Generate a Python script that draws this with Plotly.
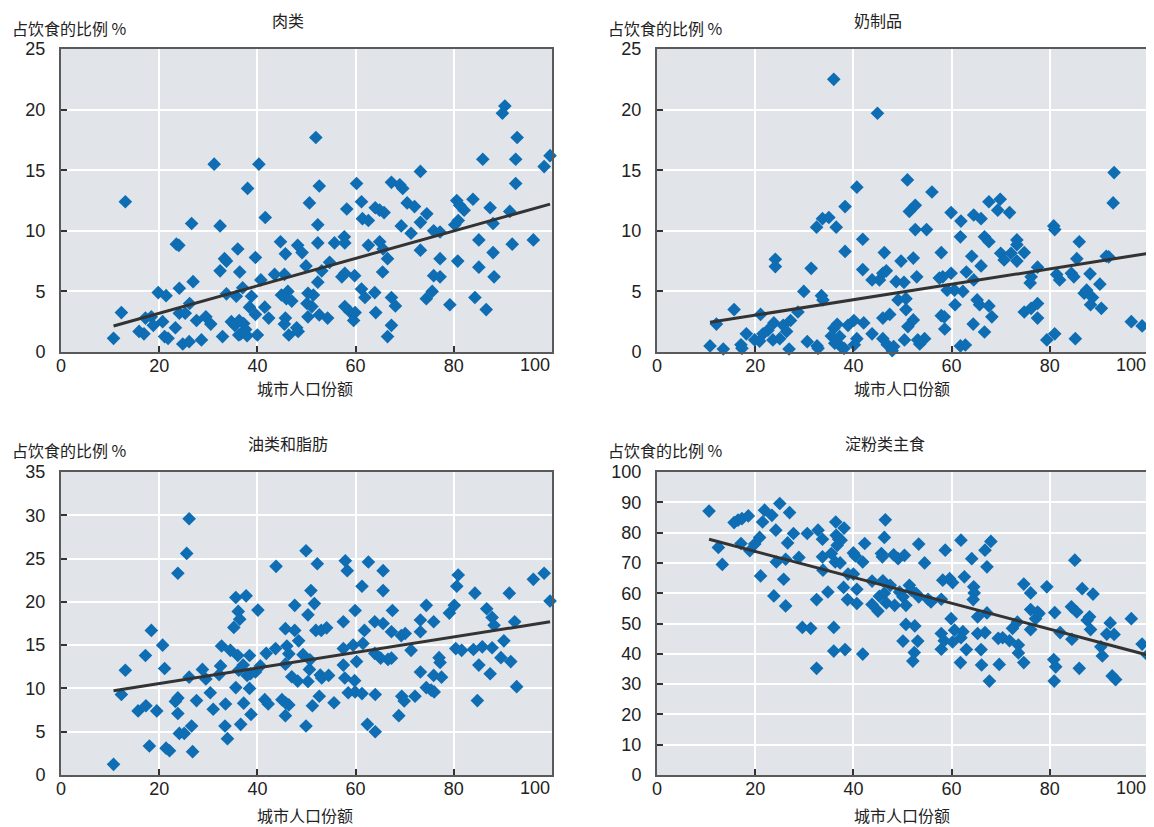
import numpy as np
import plotly.graph_objects as go

# ---------------- data ----------------
meat_x = [10.7,12.3,13.1,15.9,16.9,17.2,18.4,18.8,19.8,21.4,20.7,21.1,21.8,23.3,23.5,24.0,24.1,24.1,25.3,24.8,26.1,26.2,26.6,26.9,27.6,28.6,29.5,30.5,31.2,32.4,32.4,32.9,33.3,33.7,33.7,34.7,35.4,35.7,36.0,36.4,
          36.3,37.2,36.6,37.6,36.2,37.9,37.0,38.0,38.4,38.8,39.6,39.6,40.0,40.3,40.7,41.5,41.6,42.3,43.5,44.7,45.7,45.5,44.9,46.2,45.9,47.0,45.7,45.5,46.4,48.0,48.3,48.2,49.1,
          49.9,50.6,51.9,52.6,52.3,52.3,53.1,52.3,54.7,50.3,51.4,50.1,51.1,50.3,52.6,54.3,55.7,57.7,57.8,58.2,60.2,61.2,61.4,62.6,57.2,57.8,59.8,57.8,58.9,59.9,59.6,61.2,61.9,63.9,62.6,64.0,64.9,65.8,64.9,65.6,66.5,65.5,64.1,67.3,68.1,67.3,66.5,67.3,69.0,69.6,69.3,70.5,72.0,71.3,73.2,73.2,74.5,73.2,75.9,77.2,77.2,75.9,77.2,74.4,75.6,79.2,80.6,81.2,82.1,80.2,80.9,80.8,83.9,84.3,85.1,85.1,86.6,85.9,87.4,88.0,88.0,88.2,90.4,89.9,92.9,92.6,92.6,91.4,91.9,96.2,98.4,99.6]
meat_y = [1.13,3.25,12.4,1.7,1.5,2.8,2.9,2.2,4.9,4.65,2.5,1.27,1.13,2.0,8.9,8.8,5.26,3.2,3.2,0.66,0.85,4.0,10.6,5.8,2.6,1.0,2.9,2.3,15.5,10.4,6.7,1.27,7.7,7.5,4.8,2.5,2.2,4.6,8.5,6.6,
          2.6,2.35,1.5,1.85,1.4,1.35,5.3,13.5,3.7,4.6,3.1,7.8,1.4,15.5,5.95,3.7,11.1,2.8,6.4,9.1,8.1,6.4,4.7,5.0,4.4,4.2,2.8,2.3,1.4,2.0,1.7,8.8,8.2,
          7.1,12.3,17.7,13.7,10.5,9.0,6.7,5.76,7.4,4.85,4.7,4.0,3.75,2.9,3.06,2.8,9.0,9.5,9.0,11.8,13.9,12.4,11.0,10.85,6.2,6.5,6.3,3.75,3.3,3.25,2.6,5.2,4.5,4.9,8.8,11.9,11.7,11.5,9.1,8.5,7.7,6.6,3.25,4.5,3.8,2.2,1.27,14.0,13.8,13.5,10.4,12.3,12.0,9.8,14.9,10.7,11.4,8.4,10.0,9.9,7.7,6.3,6.2,4.4,5.0,3.9,12.5,12.1,11.7,10.5,10.85,7.5,12.6,4.5,9.25,7.0,3.5,15.9,11.9,10.6,8.2,6.2,20.3,19.7,17.7,15.9,13.9,11.6,8.9,9.25,15.3,16.2]
meat_trend = [2.15, 12.2]

dairy_x = [10.8,12.1,13.5,15.7,17.1,17.3,18.2,19.9,20.9,21.1,21.6,22.6,23.8,24.1,24.1,23.6,25.0,25.7,26.4,27.2,26.9,28.7,29.9,30.6,31.4,32.6,32.8,32.5,33.5,33.8,33.7,35.0,36.0,36.5,
           36.0,36.7,35.5,37.2,36.2,37.5,38.1,38.3,38.3,38.9,40.1,40.7,40.2,40.7,41.9,41.9,42.1,43.8,45.3,43.8,44.9,46.3,46.0,46.7,46.0,47.4,46.0,46.9,48.2,47.9,48.7,49.1,
           51.0,51.4,52.6,52.6,54.9,56.0,49.7,52.2,52.9,50.3,50.7,50.7,52.2,51.1,50.4,53.1,54.5,53.5,57.9,57.5,58.2,59.9,59.9,59.1,60.6,61.9,61.8,60.7,57.9,58.5,58.6,61.8,62.8,62.3,63.0,64.5,64.1,64.5,66.0,66.0,65.2,65.7,67.6,68.2,64.4,66.7,66.7,67.6,67.6,69.9,69.4,71.8,70.0,70.7,72.1,73.3,73.3,74.8,73.3,77.5,76.2,76.0,74.8,76.2,77.5,77.5,79.4,81.0,80.8,81.0,81.4,82.0,84.4,84.9,85.5,86.0,85.2,88.2,87.5,87.0,88.7,88.3,90.2,90.5,91.5,92.0,92.9,93.1,96.6,98.8,100.2]
dairy_y = [0.5,2.3,0.25,3.5,0.6,0.3,1.5,1.0,0.9,3.1,1.5,1.8,2.4,7.65,7.05,1.0,1.1,2.2,1.7,2.6,0.25,3.3,5.0,0.85,6.9,0.5,0.3,10.3,4.65,4.3,11.0,11.1,22.5,10.3,
           1.96,2.29,1.32,1.27,0.72,0.44,0.3,12.0,8.3,2.2,2.6,1.1,0.6,13.6,9.3,6.8,2.4,5.95,5.95,1.5,19.7,8.2,6.5,6.7,2.8,3.1,1.1,0.6,0.45,0.1,5.8,4.3,
           14.2,11.6,12.1,10.1,10.1,13.2,7.5,7.75,6.2,5.75,4.4,3.5,2.65,2.1,1.0,1.0,1.1,0.66,8.2,6.1,6.2,11.5,6.5,5.1,5.1,10.8,9.5,3.9,3.0,2.9,1.9,0.5,0.58,5.0,6.6,5.95,7.9,11.3,11.0,7.1,4.3,3.9,3.8,2.9,2.3,1.65,9.5,9.1,12.4,12.6,11.7,11.5,8.15,7.6,8.15,9.25,8.85,8.2,7.5,7.0,6.2,5.7,3.3,3.6,4.0,2.8,1.0,1.5,10.4,10.1,6.4,5.95,6.5,6.2,7.7,9.1,1.1,6.45,5.1,4.85,4.5,3.9,5.6,3.6,7.9,7.85,12.3,14.8,2.5,2.15,3.6]
dairy_trend = [2.45, 8.15]

oils_x = [10.7,12.3,13.1,15.7,17.3,17.2,18.0,18.4,19.5,20.7,21.1,21.4,22.1,23.3,23.8,23.8,23.8,24.1,25.1,25.6,26.1,26.1,26.6,26.8,27.6,28.8,29.5,30.4,31.0,32.2,32.5,32.7,33.5,33.4,33.9,34.5,35.2,35.6,37.7,36.1,36.4,35.6,36.0,36.2,37.1,36.6,37.2,38.4,37.9,38.6,39.6,40.6,38.4,38.7,40.1,41.8,41.5,42.2,43.7,43.8,45.7,47.6,46.0,46.4,45.7,47.0,48.2,45.0,45.8,46.4,45.7,47.6,48.4,49.3,
          49.9,52.2,50.9,51.6,50.3,51.9,53.0,54.1,50.7,50.6,50.3,52.8,53.1,54.5,52.6,51.2,55.6,49.9,57.9,58.3,62.6,65.6,61.3,65.6,57.5,59.9,61.8,63.9,65.6,67.3,67.5,57.5,59.5,61.5,57.5,60.2,57.8,59.8,58.5,59.9,61.3,64.0,63.9,65.1,66.6,67.3,62.4,64.0,68.8,69.4,69.9,72.1,69.3,70.1,71.3,73.2,73.2,74.4,75.9,73.2,75.9,77.5,74.4,75.4,76.0,77.0,77.2,79.1,80.1,80.6,80.9,80.4,81.6,84.0,85.8,87.8,85.1,87.4,84.8,84.3,86.7,87.8,88.2,90.2,89.6,91.6,91.3,92.4,92.8,96.2,98.4,99.6]
oils_y = [1.23,9.3,12.1,7.4,8.0,13.8,3.35,16.7,7.4,15.0,12.3,3.1,2.8,8.5,8.9,7.1,23.3,4.8,4.8,25.6,29.6,11.3,5.66,2.7,8.6,12.2,11.1,9.5,7.6,11.6,12.6,14.9,8.2,5.66,4.2,14.4,17.05,20.5,20.7,18.9,18.0,10.1,13.8,12.1,12.7,5.85,8.3,13.8,11.5,11.7,11.9,12.6,10.0,7.0,19.05,14.05,8.7,8.2,14.6,24.1,16.9,16.7,14.9,14.0,12.8,11.35,10.85,8.7,8.3,8.1,6.85,19.6,15.5,13.9,
          25.9,24.4,21.3,19.8,18.5,16.7,16.7,17.0,13.3,12.2,10.8,11.55,11.2,11.5,9.1,8.0,8.35,5.66,24.75,23.6,24.6,23.6,21.8,21.3,17.7,19.0,16.7,17.7,17.5,16.55,19.0,14.6,15.0,15.2,12.7,13.1,11.2,10.9,9.5,9.6,9.4,9.3,14.05,13.5,13.35,13.5,5.85,5.0,6.85,9.1,8.55,9.1,16.1,16.35,14.4,16.55,17.9,19.6,17.7,11.9,11.5,11.3,10.1,9.8,9.6,13.55,13.0,18.7,19.6,21.8,23.1,14.6,14.4,14.5,14.8,14.7,12.7,11.7,8.6,21.0,19.2,18.2,17.3,15.5,13.55,13.1,21.0,17.7,10.2,22.6,23.3,20.1]
oils_trend = [9.74, 17.7]

starch_x = [10.6,12.5,13.3,15.7,16.5,17.3,18.6,17.1,18.9,19.9,20.9,21.1,21.5,21.9,23.4,24.2,24.3,23.8,25.0,25.8,26.2,26.2,26.6,27.0,27.8,28.9,29.6,31.3,30.6,32.5,32.5,32.8,33.7,33.7,33.8,34.8,35.5,36.0,36.0,38.3,36.4,36.5,37.0,36.7,37.5,36.3,37.3,38.1,38.0,38.8,38.9,40.0,40.0,40.4,40.7,40.7,41.9,41.9,42.3,43.8,43.8,45.0,45.3,45.7,45.9,46.3,46.5,46.0,46.3,46.7,47.5,48.2,48.4,49.1,
            50.4,53.3,54.5,58.7,61.9,64.1,66.8,68.0,67.2,51.4,51.8,52.8,53.3,49.4,50.1,50.7,55.2,55.8,57.9,58.2,59.6,60.2,62.6,64.5,64.6,64.4,59.9,65.3,67.2,50.7,52.5,50.1,53.1,52.4,52.1,57.9,57.9,58.5,60.2,60.6,62.3,61.9,63.0,61.8,65.3,66.8,66.0,66.1,67.7,69.5,70.4,71.8,69.7,72.4,73.4,73.6,73.6,74.7,74.7,76.1,76.1,77.5,77.1,77.8,76.1,79.4,81.0,80.8,81.2,80.9,82.1,84.5,84.4,85.5,85.1,86.0,86.6,88.8,87.6,88.1,88.3,90.4,90.7,91.6,93.1,92.3,92.7,93.4,96.6,98.8,99.9]
starch_y = [87.1,75.1,69.5,83.3,84.1,84.6,85.5,76.4,74.0,76.2,78.4,65.7,83.5,87.4,85.7,80.8,70.3,59.1,89.6,64.6,71.2,55.8,76.6,86.6,79.7,71.8,48.7,48.4,79.7,57.9,35.2,80.8,77.8,72.0,67.6,60.4,73.1,48.7,40.9,41.4,83.5,79.1,77.8,75.8,77.5,70.3,70.0,81.5,61.9,57.9,66.3,66.3,73.3,72.3,61.3,56.6,70.3,39.9,76.4,64.0,56.3,54.1,59.0,73.1,72.0,78.4,84.2,64.1,60.0,56.8,62.6,72.7,56.0,71.4,
            72.5,76.2,70.0,74.2,77.5,71.4,74.2,77.1,68.7,62.6,61.0,59.9,58.8,60.4,58.8,56.0,58.0,57.1,58.0,64.3,64.8,63.5,65.4,62.1,60.1,57.9,51.6,52.2,53.5,49.7,49.2,44.2,44.2,40.4,37.6,46.7,41.5,44.3,43.9,47.8,47.3,45.3,41.4,37.1,46.7,47.0,41.4,36.3,31.0,45.1,45.3,44.3,36.5,48.4,50.5,42.9,40.3,37.1,63.0,60.1,54.6,53.8,51.6,53.3,48.0,62.1,53.6,38.1,35.7,31.0,47.0,44.8,55.5,53.8,70.9,35.2,61.5,59.7,51.1,52.2,48.0,42.3,39.3,46.5,46.4,50.2,32.7,31.5,51.6,43.2,39.6]
starch_trend = [77.8, 39.6]

titles = ["肉类", "奶制品", "油类和脂肪", "淀粉类主食"]
y_title = "占饮食的比例 %"
x_title = "城市人口份额"
x_tick_vals = [0, 20, 40, 60, 80, 100]
x_tick_text = ["0", "20", "40", "60", "80", ""]
x_last_label = "100"
y_ranges = [[0, 25], [0, 25], [0, 35], [0, 100]]
y_dticks = [5, 5, 5, 10]

# ---------------- layout geometry (screen pixels of the reference) ----------------
OFF = 8                      # page body margin in the browser
W, H = 1154 - OFF, 827 - OFF  # figure size so that it ends at the window edge
panels = [  # left, right, top, bottom in screen px
    (61, 552, 49, 352),
    (657, 1148, 49, 352),
    (61, 552, 472, 775),
    (657, 1148, 472, 775),
]
title_pos = [(288, 20), (878, 20), (288, 443), (885, 443)]
ytitle_pos = [(10, 28), (606, 28), (10, 450), (606, 450)]
xtitle_pos = [(305, 388), (902, 388), (305, 815), (902, 815)]


def px(v):
    return (v - OFF) / W


def py(v):
    return 1 - (v - OFF) / H


NUMFONT = "Liberation Sans Narrow, Arial Narrow, Liberation Sans, sans-serif"
CJK = "Noto Sans CJK SC, Liberation Sans, sans-serif"
PT_COLOR = "#0e6db3"
BG = "#e1e5ea"
TXT = "#222222"

series = [(meat_x, meat_y, meat_trend), (dairy_x, dairy_y, dairy_trend),
          (oils_x, oils_y, oils_trend), (starch_x, starch_y, starch_trend)]

fig = go.Figure()
layout = dict(width=W, height=H, margin=dict(l=0, r=0, t=0, b=0, autoexpand=False),
              paper_bgcolor="white", plot_bgcolor=BG, showlegend=False,
              font=dict(family=NUMFONT, size=18, color=TXT))
annotations = []
for i, ((xs, ys, tr), (l, r, t, b)) in enumerate(zip(series, panels)):
    n = "" if i == 0 else str(i + 1)
    xa, ya = "x" + n, "y" + n
    fig.add_trace(go.Scatter(x=xs, y=ys, mode="markers", xaxis=xa, yaxis=ya,
                             cliponaxis=False,
                             marker=dict(symbol="diamond", size=10.5, color=PT_COLOR,
                                         line=dict(width=0))))
    lx = [min(xs), max(xs)]
    fig.add_trace(go.Scatter(x=lx, y=tr, mode="lines", xaxis=xa, yaxis=ya,
                             line=dict(color="#333333", width=3)))
    common = dict(showline=True, mirror=True, linecolor="#5a5a5a", linewidth=2,
                  showgrid=True, gridcolor="white", gridwidth=1.5, zeroline=False,
                  ticks="inside", ticklen=6, tickwidth=2, tickcolor="#333",
                  automargin=False,
                  tickfont=dict(family=NUMFONT, size=18, color=TXT))
    layout["xaxis" + n] = dict(domain=[px(l), px(r)], range=[0, 100],
                               tickvals=x_tick_vals, ticktext=x_tick_text,
                               ticklabelstandoff=-4, anchor=ya, **common)
    layout["yaxis" + n] = dict(domain=[py(b), py(t)], range=y_ranges[i],
                               dtick=y_dticks[i], tick0=0, anchor=xa,
                               ticklabelstandoff=10, **common)
    # last x tick label, right-aligned to the axis end as in the reference
    annotations.append(dict(text=x_last_label, x=100, xref=xa, y=py(b + 13), yref="paper",
                            xanchor="right", yanchor="middle", showarrow=False,
                            font=dict(family=NUMFONT, size=18, color=TXT)))
    tx, ty = title_pos[i]
    annotations.append(dict(text=titles[i], x=px(tx), y=py(ty), xref="paper", yref="paper",
                            xanchor="center", yanchor="middle", showarrow=False,
                            font=dict(family=CJK, size=16, color=TXT)))
    yx, yy = ytitle_pos[i]
    annotations.append(dict(text=y_title, x=px(yx), y=py(yy), xref="paper", yref="paper",
                            xanchor="left", yanchor="middle", showarrow=False,
                            font=dict(family=CJK, size=16, color=TXT)))
    xx, xy = xtitle_pos[i]
    annotations.append(dict(text=x_title, x=px(xx), y=py(xy), xref="paper", yref="paper",
                            xanchor="center", yanchor="middle", showarrow=False,
                            font=dict(family=CJK, size=16, color=TXT)))

layout["annotations"] = annotations
fig.update_layout(**layout)
fig.write_html("out.html")
